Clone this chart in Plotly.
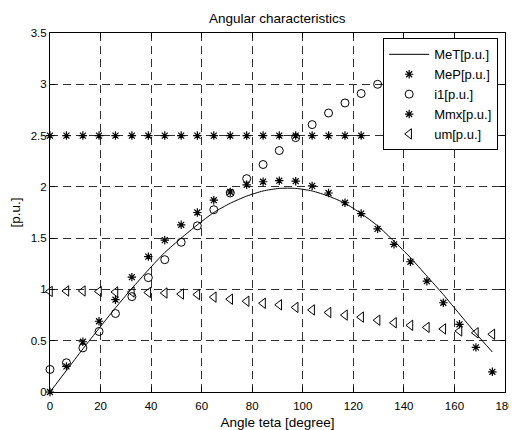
import plotly.graph_objects as go

# angle samples [degree]
teta = [0, 6.5, 13, 19.4, 25.9, 32.4, 38.9, 45.4, 51.9, 58.3, 64.8, 71.3, 77.8, 84.3,
        90.7, 97.2, 103.7, 110.2, 116.7, 123.1, 129.6, 136.1, 142.6, 149.1, 155.6, 162, 168.5, 175]

met = [0, 0.21, 0.42, 0.62, 0.82, 1.01, 1.19, 1.36, 1.50, 1.63, 1.75, 1.84, 1.91, 1.96,
       1.985, 1.985, 1.96, 1.91, 1.84, 1.74, 1.62, 1.47, 1.31, 1.13, 0.95, 0.76, 0.57, 0.39]

mep = [0.0, 0.25, 0.49, 0.69, 0.90, 1.12, 1.32, 1.48, 1.63, 1.75, 1.87, 1.95, 2.02, 2.05,
       2.06, 2.055, 2.01, 1.94, 1.845, 1.74, 1.59, 1.44, 1.27, 1.08, 0.87, 0.66, 0.435, 0.197]

i1 = [0.22, 0.285, 0.43, 0.59, 0.765, 0.93, 1.115, 1.29, 1.46, 1.62, 1.777, 1.94, 2.08,
      2.218, 2.354, 2.48, 2.607, 2.72, 2.818, 2.91, 3.0]

mmx = [2.5] * 20

um = [0.98, 0.985, 0.985, 0.98, 0.975, 0.975, 0.97, 0.965, 0.955, 0.95, 0.925, 0.905, 0.885,
      0.865, 0.85, 0.825, 0.80, 0.775, 0.75, 0.73, 0.70, 0.675, 0.65, 0.63, 0.615, 0.595,
      0.577, 0.563]

y_ticks = [0, 0.5, 1, 1.5, 2, 2.5, 3, 3.5]
y_ticktext = ["0", "0.5", "1", "1.5", "2", "2.5", "3", "3.5"]
x_ticks = [0, 20, 40, 60, 80, 100, 120, 140, 160, 180]

FONT = "Liberation Sans, Arial, sans-serif"

fig = go.Figure()
fig.add_trace(go.Scatter(
  x=teta, y=met, mode="lines", name="MeT[p.u.]",
  line=dict(color="black", width=1, shape="spline", smoothing=0.6),
))
fig.add_trace(go.Scatter(
  x=teta, y=mep, mode="markers", name="MeP[p.u.]", cliponaxis=False,
  marker=dict(symbol="asterisk-open", size=7, color="black", line=dict(color="black", width=1.2)),
))
fig.add_trace(go.Scatter(
  x=teta[:len(i1)], y=i1, mode="markers", name="i1[p.u.]", cliponaxis=False,
  marker=dict(symbol="circle-open", size=8, color="black", line=dict(color="black", width=1)),
))
fig.add_trace(go.Scatter(
  x=teta[:len(mmx)], y=mmx, mode="markers", name="Mmx[p.u.]", cliponaxis=False,
  marker=dict(symbol="asterisk-open", size=7, color="black", line=dict(color="black", width=1.2)),
))
fig.add_trace(go.Scatter(
  x=teta, y=um, mode="markers", name="um[p.u.]", cliponaxis=False,
  marker=dict(symbol="triangle-left-open", size=9, color="black", line=dict(color="black", width=1)),
))

axis_common = dict(
  showline=True, linecolor="black", linewidth=1, mirror="ticks",
  ticks="inside", ticklen=5, tickcolor="black", automargin=False,
  showgrid=True, gridcolor="#303030", gridwidth=1, griddash="8px,5px",
  zeroline=False, tickfont=dict(size=11.5, color="black"),
)

# the page body adds an 8px offset, so the figure is a bit smaller than the window
fig.update_layout(
  width=509, height=422,
  margin=dict(l=42, r=12, t=25, b=38),
  paper_bgcolor="white", plot_bgcolor="white",
  font=dict(family=FONT, size=13, color="black"),
  title=dict(text="Angular characteristics", x=0.529, xanchor="center",
             y=0.975, yanchor="middle", font=dict(size=13.5)),
  xaxis=dict(range=[0, 180], tickvals=x_ticks, ticklabelstandoff=3,
             title=dict(text="Angle teta [degree]", standoff=6, font=dict(size=13.5)),
             **axis_common),
  yaxis=dict(range=[0, 3.5], tickvals=y_ticks, ticktext=y_ticktext,
             title=dict(text="[p.u.]", standoff=7, font=dict(size=13.5)),
             **axis_common),
  legend=dict(x=0.985, y=0.985, xanchor="right", yanchor="top",
              bgcolor="white", bordercolor="black", borderwidth=1,
              font=dict(size=13), tracegroupgap=0, itemwidth=40),
  showlegend=True,
)

fig.write_html("out.html")
